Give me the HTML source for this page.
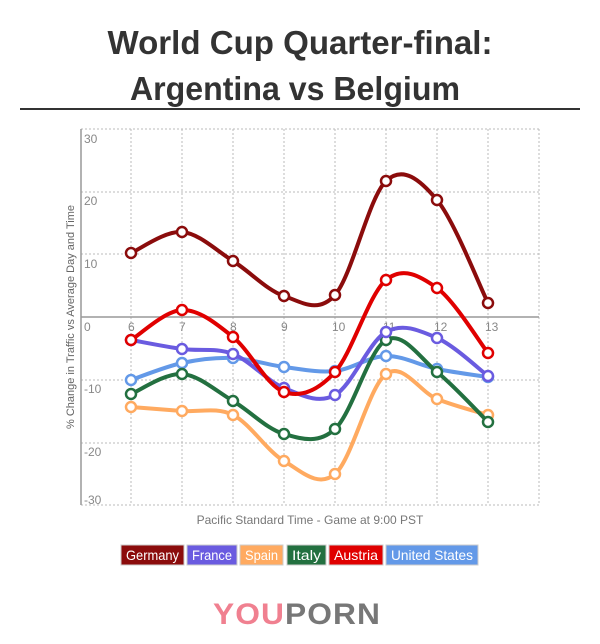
<!DOCTYPE html>
<html><head><meta charset="utf-8"><style>
body{margin:0;background:#fff;width:600px;height:639px;overflow:hidden;font-family:"Liberation Sans",sans-serif}
</style></head><body>
<svg width="600" height="639" xmlns="http://www.w3.org/2000/svg" id="s">
<text x="300" y="54" text-anchor="middle" font-size="33" font-weight="bold" fill="#333" textLength="385" lengthAdjust="spacingAndGlyphs">World Cup Quarter-final:</text>
<text x="295" y="100" text-anchor="middle" font-size="33" font-weight="bold" fill="#333" textLength="330" lengthAdjust="spacingAndGlyphs">Argentina vs Belgium</text>
<line x1="20" y1="109" x2="580" y2="109" stroke="#333" stroke-width="2"/>
<g id="grid" stroke="#bbb" stroke-width="1" stroke-dasharray="2,2"></g>
<line x1="81" y1="129" x2="81" y2="505" stroke="#999" stroke-width="1.5"/>
<line x1="81" y1="317" x2="539" y2="317" stroke="#999" stroke-width="1.5"/>
<g font-size="12" fill="#888" id="lbl"></g>
<text x="74" y="317" transform="rotate(-90 74 317)" text-anchor="middle" font-size="11" fill="#666">% Change in Traffic vs Average Day and Time</text>
<text x="310" y="524" text-anchor="middle" font-size="12" fill="#777">Pacific Standard Time - Game at 9:00 PST</text>
<g id="series"></g>
<g font-size="14" fill="#fff" id="leg"></g>
<text x="297" y="624" text-anchor="middle" font-size="30" font-weight="bold" letter-spacing="1" textLength="168" lengthAdjust="spacingAndGlyphs"><tspan fill="#f08090">YOU</tspan><tspan fill="#777">PORN</tspan></text>
</svg>
<script>
var NS="http://www.w3.org/2000/svg";
function el(t,a,p,txt){var e=document.createElementNS(NS,t);for(var k in a)e.setAttribute(k,a[k]);if(txt)e.textContent=txt;document.getElementById(p).appendChild(e);return e;}
var xs=[131,182,233,284,335,386,437,488];
for(var i=0;i<8;i++){el('line',{x1:xs[i],y1:129,x2:xs[i],y2:505},'grid');el('text',{x:xs[i]-3,y:331},'lbl',String(6+i));}
[129,192,254,380,443,505].forEach(function(y){el('line',{x1:81,y1:y,x2:539,y2:y},'grid');});
el('line',{x1:539,y1:129,x2:539,y2:505},'grid');
[[30,143],[20,205],[10,268],[0,331],[-10,393],[-20,456],[-30,504]].forEach(function(a){el('text',{x:84,y:a[1]},'lbl',String(a[0]));});
var S=[
["#6399e8",[380,363,358,367,371,356,369,377]],
["#ffaa60",[407,411,415,461,474,374,399,415]],
["#237040",[394,374,401,434,429,340,372,422]],
["#6a5be0",[340,349,354,388,395,332,338,376]],
["#e00000",[340,310,337,392,372,280,288,353]],
["#8b0c0c",[253,232,261,296,295,181,200,303]]];
S.forEach(function(s){var y=s[1],d="M"+xs[0]+","+y[0];
for(var i=0;i<7;i++){var p0=[xs[Math.max(i-1,0)],y[Math.max(i-1,0)]],p1=[xs[i],y[i]],p2=[xs[i+1],y[i+1]],p3=[xs[Math.min(i+2,7)],y[Math.min(i+2,7)]];
d+=" C"+(p1[0]+(p2[0]-p0[0])/6)+","+(p1[1]+(p2[1]-p0[1])/6)+" "+(p2[0]-(p3[0]-p1[0])/6)+","+(p2[1]-(p3[1]-p1[1])/6)+" "+p2[0]+","+p2[1];}
el('path',{d:d,fill:"none",stroke:s[0],"stroke-width":4},'series');
for(var i=0;i<8;i++)el('circle',{cx:xs[i],cy:y[i],r:5,fill:"#fff",stroke:s[0],"stroke-width":2.5},'series');});
var L=[["Germany","#8b0c0c",121,63],["France","#6a5be0",187,50],["Spain","#ffaa60",240,43],["Italy","#237040",287,39],["Austria","#e00000",329,54],["United States","#6399e8",386,92]];
L.forEach(function(l){el('rect',{x:l[2],y:545,width:l[3],height:20,fill:l[1],stroke:"#ccc","stroke-width":1},'leg');el('text',{x:l[2]+l[3]/2,y:560,"text-anchor":"middle",textLength:l[3]-10,lengthAdjust:"spacingAndGlyphs"},'leg',l[0]);});
</script>
</body></html>
